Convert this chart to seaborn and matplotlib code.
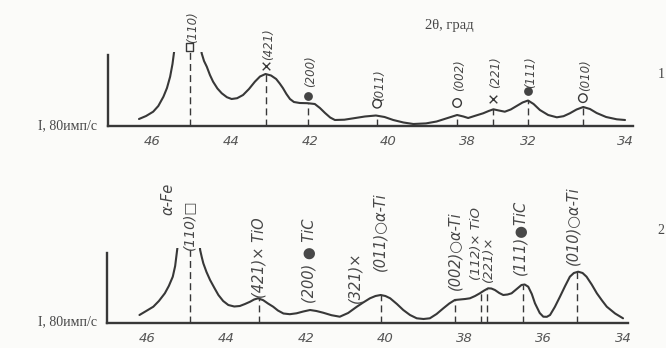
import matplotlib
matplotlib.use("Agg")
import numpy as np
import pandas as pd
import matplotlib.pyplot as plt
import seaborn as sns

# ---------------- data ----------------
# pattern 1 : 2theta (deg) and intensity (arbitrary units, clipped above the frame)
top_theta = [46.33, 46.15, 45.97, 45.84, 45.71, 45.62, 45.54, 45.48, 45.44, 45.38,
             45.04, 44.80, 44.76, 44.74, 44.68, 44.61, 44.53, 44.45, 44.34, 44.23,
             44.10, 43.98, 43.84, 43.69, 43.54, 43.39, 43.26, 43.12, 42.98, 42.85,
             42.76, 42.68, 42.59, 42.50, 42.40, 42.25, 42.05, 41.87, 41.74, 41.61,
             41.48, 41.36, 41.12, 40.89, 40.60, 40.32, 40.10, 39.88, 39.62, 39.37,
             39.05, 38.78, 38.50, 38.26, 38.10, 37.98, 37.78, 37.60, 37.46, 37.34,
             37.20, 37.05, 36.90, 36.75, 36.60, 36.46, 36.32, 36.16, 35.95, 35.73,
             35.56, 35.40, 35.23, 35.06, 34.89, 34.72, 34.48, 34.21, 34.00]
top_intensity = [7, 10, 14.3, 20, 29.3, 38, 49.3, 62, 74, 90,
                 150, 110, 80, 72.7, 65, 59.3, 51, 44.3, 37.5, 32.7,
                 28.8, 27, 27.8, 31, 37, 44.3, 49.5, 52, 50.5, 47,
                 42.5, 38, 32, 27, 24, 23, 22.8, 22, 18, 13,
                 8.5, 6, 6.3, 7.7, 9.5, 10.5, 9, 6, 3.5, 2,
                 2.6, 4.5, 8, 11, 9.5, 8, 10.5, 12.7, 15, 16.7,
                 15.5, 14.3, 16.5, 20, 23.5, 25.5, 22, 16, 11, 8.7,
                 9.8, 12.7, 16.5, 19, 17, 13, 9, 6.7, 6]
top_peak_theta = [45.04, 43.11, 42.04, 40.29, 38.26, 37.35, 36.46, 35.07]
top_peak_hkl = ["(110)", "(421)", "(200)", "(011)", "(002)", "(221)", "(111)", "(010)"]
top_peak_phase = ["Fe", "TiO", "TiC", "Ti", "Ti", "TiO", "TiC", "Ti"]
top_tick_values = [46, 44, 42, 40, 38, 36.45, 34]
top_tick_labels = ["46", "44", "42", "40", "38", "32", "34"]

# pattern 2
bottom_theta = [46.19, 46.02, 45.84, 45.70, 45.55, 45.45, 45.35, 45.29, 45.24, 45.15,
                44.92, 44.72, 44.66, 44.62, 44.58, 44.50, 44.41, 44.30, 44.20, 44.08,
                43.95, 43.80, 43.66, 43.53, 43.40, 43.30, 43.20, 43.07, 42.95, 42.82,
                42.70, 42.56, 42.40, 42.23, 42.06, 41.89, 41.73, 41.56, 41.35, 41.14,
                40.93, 40.71, 40.55, 40.38, 40.24, 40.11, 39.99, 39.87, 39.70, 39.54,
                39.37, 39.20, 39.03, 38.87, 38.70, 38.53, 38.38, 38.24, 38.11, 37.98,
                37.86, 37.73, 37.61, 37.50, 37.40, 37.32, 37.23, 37.12, 37.02, 36.91,
                36.81, 36.68, 36.56, 36.48, 36.39, 36.30, 36.22, 36.10, 36.01, 35.92,
                35.84, 35.72, 35.59, 35.46, 35.34, 35.24, 35.13, 35.02, 34.92, 34.79,
                34.66, 34.53, 34.41, 34.20, 34.00]
bottom_intensity = [8, 12, 16.3, 22, 29.7, 37, 46.3, 57, 73, 100,
                    150, 100, 73, 66, 59.7, 51, 43, 35, 28, 22,
                    18, 16.5, 17, 19, 21.3, 23.5, 24.7, 22.8, 19.5, 16.3,
                    12.5, 9.5, 8.8, 9.7, 11.5, 13, 12, 10.3, 7.8, 6.3,
                    10, 16.3, 20.5, 24.7, 27, 28, 27, 24.7, 19, 13,
                    8, 4.7, 4, 4.7, 9, 14.7, 19.5, 23, 23.5, 24,
                    24.7, 27, 29.7, 32.5, 34.7, 34.5, 33, 30, 28, 28.5,
                    29.7, 34, 38, 38.5, 36.3, 29, 19.7, 10, 6.3, 6.2,
                    8, 16, 26.3, 37, 46.3, 50, 51.3, 50, 46.3, 38.5,
                    29.7, 22.5, 16.3, 9.5, 4.7]
bottom_label_text = ["α-Fe", "(110)□", "(421)× TiO", "(200) ● TiC", "(321)×",
                     "(011)○α-Ti", "(002)○α-Ti", "(112)× TiO", "(221)×",
                     "(111)●TiC", "(010)○α-Ti"]
bottom_label_theta = [45.47, 44.94, 43.18, 41.92, 40.76, 40.14, 38.24, 37.70, 37.38, 36.60, 35.26]
bottom_line_theta = [44.92, 43.18, 40.09, 38.24, 37.58, 37.43, 36.52, 35.16]
bottom_tick_values = [46, 44, 42, 40, 38, 36, 34]
bottom_tick_labels = ["46", "44", "42", "40", "38", "36", "34"]
bottom_minor_ticks = [37, 35]

axis_label = "I, 80имп/с"
x_title = "2θ, град"
pattern_names = ["1", "2"]

# ---------------- layout / style ----------------
INK = "#383838"
TEXT = "#474747"
BG = "#fbfbf9"
W, H = 666, 348

sns.set_theme(style="white")
plt.rcParams["font.family"] = ["DejaVu Sans"]

fig = plt.figure(figsize=(W / 100, H / 100), dpi=100, facecolor=BG)


def px_axes(left, right, top, bottom):
    return fig.add_axes([left / W, 1 - bottom / H, (right - left) / W, (bottom - top) / H])


ax1 = px_axes(108, 633, 52, 126)
ax2 = px_axes(107, 628, 248, 323)

df1 = pd.DataFrame({"theta": top_theta, "I": top_intensity})
df2 = pd.DataFrame({"theta": bottom_theta, "I": bottom_intensity})

for ax, df, xl, ytop, spine_top in [(ax1, df1, (47.116, 33.798), 74, 71),
                                    (ax2, df2, (47.008, 33.875), 75, 70)]:
    sns.lineplot(data=df, x="theta", y="I", ax=ax, color=INK, lw=1.5, estimator=None)
    ax.lines[-1].set_solid_joinstyle("round")
    ax.set_xlim(*xl)
    ax.set_ylim(0, ytop)
    ax.set_facecolor("none")
    ax.set_xlabel("")
    ax.set_ylabel("")
    ax.set_yticks([])
    for s in ["top", "right"]:
        ax.spines[s].set_visible(False)
    for s in ["left", "bottom"]:
        ax.spines[s].set_visible(True)
        ax.spines[s].set_color(INK)
        ax.spines[s].set_linewidth(1.7)
    ax.spines["left"].set_bounds(0, spine_top)
    ax.tick_params(axis="x", direction="inout", length=7, width=1.1, color=INK,
                   labelsize=9.5, labelcolor="#555555", pad=3)

ax1.set_xticks(top_tick_values)
ax1.set_xticklabels(top_tick_labels, fontstyle="italic")
ax2.set_xticks(bottom_tick_values)
ax2.set_xticklabels(bottom_tick_labels, fontstyle="italic")
ax2.set_xticks(bottom_minor_ticks, minor=True)
ax2.tick_params(axis="x", which="minor", direction="inout", length=6, width=1.0, color=INK)

# ---- pattern 1 annotations ----
marker_style = {"Fe": dict(marker="s", s=26, facecolors="none", edgecolors=INK, linewidths=1.0),
                "TiO": dict(marker="x", s=30, c=INK, linewidths=1.0),
                "TiC": dict(marker="o", s=40, c="#444444", linewidths=0),
                "Ti": dict(marker="o", s=38, facecolors="none", edgecolors=INK, linewidths=1.0)}
marker_gap = [5, 8, 7, 12, 12, 10, 9, 9]
label_gap = [4, 6, 9, 3, 12, 11, 3, 7]
curve1 = np.interp(top_peak_theta, top_theta[::-1], top_intensity[::-1])
for th, hkl, ph, h, mg, lg in zip(top_peak_theta, top_peak_hkl, top_peak_phase, curve1, marker_gap, label_gap):
    h_eff = min(h, 74)
    ax1.vlines(th, 0, h_eff, colors=INK, linestyles=(0, (5, 3)), lw=1.0)
    my = h_eff + mg
    ax1.scatter([th], [my], clip_on=False, zorder=5, **marker_style[ph])
    ax1.text(th - 0.07, my + lg, hkl, rotation=90, ha="center", va="bottom",
             fontsize=8.5, fontstyle="italic", color=TEXT, clip_on=False)

# ---- pattern 2 annotations ----
curve2 = np.interp(bottom_line_theta, bottom_theta[::-1], bottom_intensity[::-1])
for th, h in zip(bottom_line_theta, curve2):
    ax2.vlines(th, 0, min(h, 75), colors=INK, linestyles=(0, (5, 3)), lw=1.0)
label_base = [108, 73, 25, 20, 20, 52, 33, 43, 41, 48, 58]
label_size = [10.5, 10, 10.5, 10.5, 10.5, 10.5, 10.5, 9.5, 9.5, 10.5, 10.5]
for txt, th, b, fs in zip(bottom_label_text, bottom_label_theta, label_base, label_size):
    ax2.text(th, b, txt, rotation=90, ha="center", va="bottom", fontsize=fs,
             fontstyle="italic", color=TEXT, clip_on=False)

# ---- free text ----
serif = ["Liberation Serif", "DejaVu Serif"]
fig.text(449 / W, 1 - 25 / H, x_title, ha="center", va="center", fontsize=10.5,
         family=serif, color=TEXT)
fig.text(97 / W, 1 - 126 / H, axis_label, ha="right", va="center", fontsize=10,
         family=serif, color=TEXT)
fig.text(97 / W, 1 - 322 / H, axis_label, ha="right", va="center", fontsize=10,
         family=serif, color=TEXT)
fig.text(661 / W, 1 - 75 / H, pattern_names[0], ha="center", va="center", fontsize=10,
         family=serif, color=TEXT)
fig.text(661 / W, 1 - 230 / H, pattern_names[1], ha="center", va="center", fontsize=10,
         family=serif, color=TEXT)

fig.savefig("out.png", dpi=100, facecolor=BG)
